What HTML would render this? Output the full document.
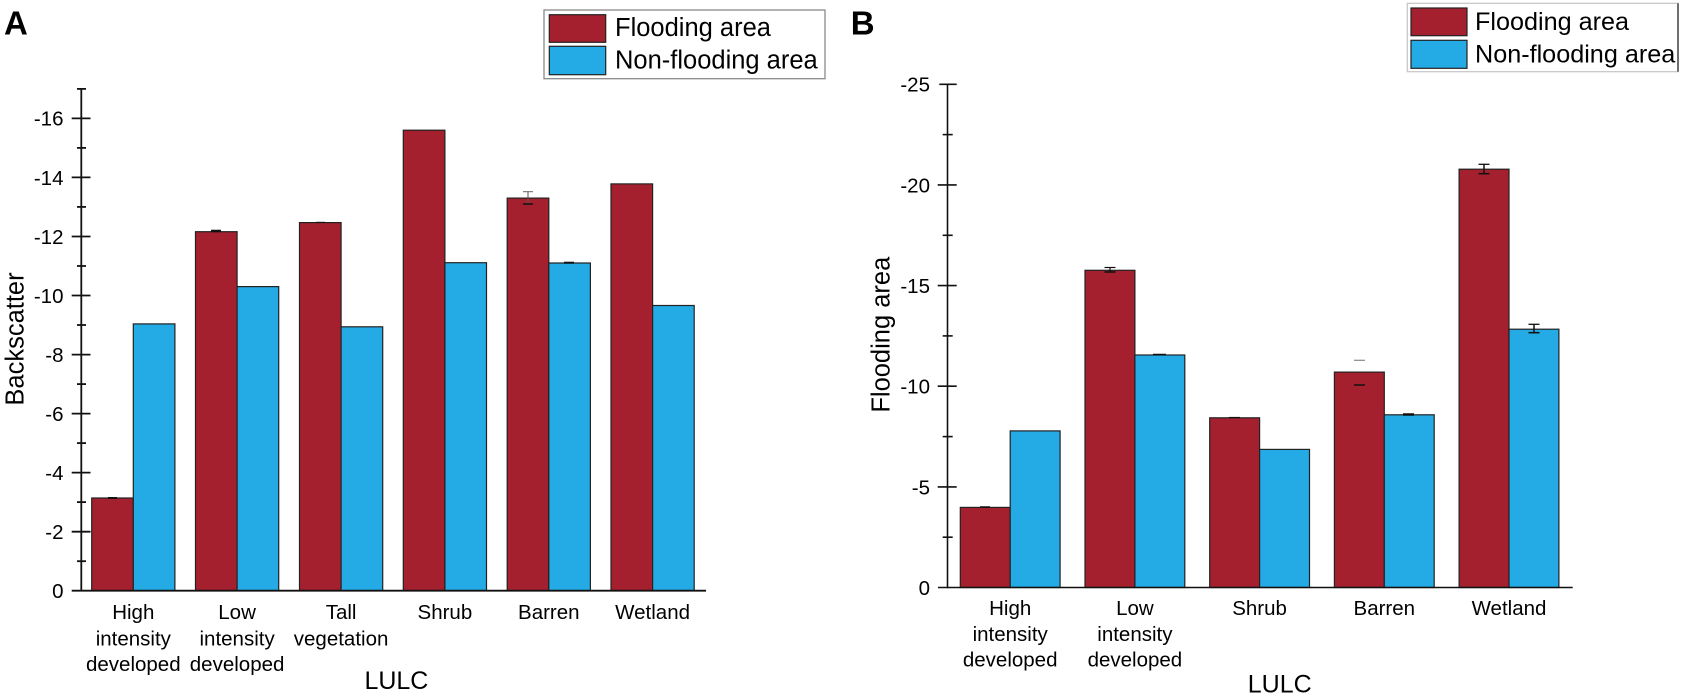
<!DOCTYPE html>
<html><head><meta charset="utf-8"><style>
html,body{margin:0;padding:0;background:#fff;}
svg{display:block;}
text{font-family:"Liberation Sans",Arial,sans-serif;fill:#000;}
</style></head><body>
<svg width="1699" height="696" viewBox="0 0 1699 696" xmlns="http://www.w3.org/2000/svg">
<rect width="1699" height="696" fill="#fff"/>

<!-- ================= PANEL A ================= -->
<text x="4" y="34.3" font-size="33" font-weight="bold">A</text>

<!-- legend A -->
<rect x="544" y="10" width="281" height="68.7" fill="#fff" stroke="#8a8a8a" stroke-width="1.3"/>
<rect x="549.3" y="14.7" width="56.4" height="27.6" fill="#A4202F" stroke="#222" stroke-width="1.2"/>
<rect x="549.3" y="46.3" width="56.4" height="28.4" fill="#24AAE4" stroke="#222" stroke-width="1.2"/>
<text x="615" y="36" font-size="25.5">Flooding area</text>
<text x="615" y="68.3" font-size="25.5">Non-flooding area</text>

<!-- bars A -->
<g stroke="#222" stroke-width="1.2">
<rect x="91.7" y="498.0" width="41.6" height="92.7" fill="#A4202F"/>
<rect x="133.3" y="323.9" width="41.6" height="266.8" fill="#24AAE4"/>
<rect x="195.5" y="231.7" width="41.6" height="359.0" fill="#A4202F"/>
<rect x="237.1" y="286.6" width="41.6" height="304.1" fill="#24AAE4"/>
<rect x="299.5" y="222.6" width="41.6" height="368.1" fill="#A4202F"/>
<rect x="341.1" y="326.8" width="41.6" height="263.9" fill="#24AAE4"/>
<rect x="403.3" y="130.2" width="41.6" height="460.5" fill="#A4202F"/>
<rect x="444.9" y="262.7" width="41.6" height="328.0" fill="#24AAE4"/>
<rect x="507.2" y="198.1" width="41.6" height="392.6" fill="#A4202F"/>
<rect x="548.8" y="263.0" width="41.6" height="327.7" fill="#24AAE4"/>
<rect x="611.0" y="183.9" width="41.6" height="406.8" fill="#A4202F"/>
<rect x="652.6" y="305.5" width="41.6" height="285.2" fill="#24AAE4"/>
</g>
<!-- error bars A -->
<g stroke="#111" fill="none">
<line x1="108" y1="498" x2="117" y2="498" stroke-width="2"/>
<line x1="211" y1="231" x2="221" y2="231" stroke-width="2.5"/>
<line x1="316" y1="222.3" x2="325" y2="222.3" stroke-width="1"/>
<line x1="523" y1="191.7" x2="533" y2="191.7" stroke-width="1" stroke="#666"/>
<line x1="528" y1="191.7" x2="528" y2="204" stroke-width="1" stroke="#555"/>
<line x1="523" y1="204" x2="533" y2="204" stroke-width="1.5"/>
<line x1="564" y1="262.7" x2="574" y2="262.7" stroke-width="2"/>
</g>

<!-- axes A -->
<g stroke="#111" stroke-width="1.8" fill="none">
<line x1="81.3" y1="88.7" x2="81.3" y2="591.5"/>
<line x1="71.7" y1="590.7" x2="706" y2="590.7"/>
<!-- major ticks -->
<line x1="71.7" y1="531.7" x2="90.5" y2="531.7"/>
<line x1="71.7" y1="472.6" x2="90.5" y2="472.6"/>
<line x1="71.7" y1="413.6" x2="90.5" y2="413.6"/>
<line x1="71.7" y1="354.6" x2="90.5" y2="354.6"/>
<line x1="71.7" y1="295.5" x2="90.5" y2="295.5"/>
<line x1="71.7" y1="236.5" x2="90.5" y2="236.5"/>
<line x1="71.7" y1="177.4" x2="90.5" y2="177.4"/>
<line x1="71.7" y1="118.4" x2="90.5" y2="118.4"/>
<!-- minor ticks -->
<line x1="77" y1="561.2" x2="86" y2="561.2"/>
<line x1="77" y1="502.1" x2="86" y2="502.1"/>
<line x1="77" y1="443.1" x2="86" y2="443.1"/>
<line x1="77" y1="384.1" x2="86" y2="384.1"/>
<line x1="77" y1="325.0" x2="86" y2="325.0"/>
<line x1="77" y1="266.0" x2="86" y2="266.0"/>
<line x1="77" y1="206.9" x2="86" y2="206.9"/>
<line x1="77" y1="147.9" x2="86" y2="147.9"/>
<line x1="77" y1="88.9" x2="86" y2="88.9"/>
</g>
<g font-size="20.5" text-anchor="end">
<text x="63.5" y="598">0</text>
<text x="63.5" y="539">-2</text>
<text x="63.5" y="480">-4</text>
<text x="63.5" y="421">-6</text>
<text x="63.5" y="362">-8</text>
<text x="63.5" y="303">-10</text>
<text x="63.5" y="244">-12</text>
<text x="63.5" y="185">-14</text>
<text x="63.5" y="125.5">-16</text>
</g>
<text transform="translate(23.3,339) rotate(-90)" font-size="25.5" text-anchor="middle">Backscatter</text>

<g font-size="20.5" text-anchor="middle">
<text x="133.3" y="619">High</text>
<text x="133.3" y="645.5">intensity</text>
<text x="133.3" y="671">developed</text>
<text x="237.1" y="619">Low</text>
<text x="237.1" y="645.5">intensity</text>
<text x="237.1" y="671">developed</text>
<text x="341.1" y="619">Tall</text>
<text x="341.1" y="645.5">vegetation</text>
<text x="444.9" y="619">Shrub</text>
<text x="548.8" y="619">Barren</text>
<text x="652.6" y="619">Wetland</text>
</g>
<text x="396.4" y="689" font-size="25" text-anchor="middle">LULC</text>

<!-- ================= PANEL B ================= -->
<text x="850.7" y="34.3" font-size="33" font-weight="bold">B</text>

<!-- legend B -->
<rect x="1407.3" y="3.3" width="270.7" height="68.4" fill="#fff" stroke="#c8c8c8" stroke-width="1.3"/>
<line x1="1678" y1="3.3" x2="1678" y2="71.7" stroke="#444" stroke-width="1.5"/>
<rect x="1411" y="8" width="56" height="27.7" fill="#A4202F" stroke="#222" stroke-width="1.2"/>
<rect x="1411" y="40.3" width="56" height="28" fill="#24AAE4" stroke="#222" stroke-width="1.2"/>
<text x="1475" y="30" font-size="25.2">Flooding area</text>
<text x="1475" y="62.3" font-size="25.2">Non-flooding area</text>

<!-- bars B -->
<g stroke="#222" stroke-width="1.2">
<rect x="960.3" y="507.4" width="49.9" height="80.1" fill="#A4202F"/>
<rect x="1010.2" y="430.9" width="49.9" height="156.6" fill="#24AAE4"/>
<rect x="1085.0" y="270.3" width="49.9" height="317.2" fill="#A4202F"/>
<rect x="1134.9" y="355.0" width="49.9" height="232.5" fill="#24AAE4"/>
<rect x="1209.7" y="417.8" width="49.9" height="169.7" fill="#A4202F"/>
<rect x="1259.6" y="449.4" width="49.9" height="138.1" fill="#24AAE4"/>
<rect x="1334.4" y="372.1" width="49.9" height="215.4" fill="#A4202F"/>
<rect x="1384.3" y="414.8" width="49.9" height="172.7" fill="#24AAE4"/>
<rect x="1459.1" y="169.2" width="49.9" height="418.3" fill="#A4202F"/>
<rect x="1509.0" y="329.2" width="49.9" height="258.3" fill="#24AAE4"/>
</g>
<!-- error bars B -->
<g stroke="#111" fill="none">
<line x1="980" y1="507" x2="990" y2="507" stroke-width="1.5"/>
<line x1="1104.5" y1="267.5" x2="1115.5" y2="267.5" stroke-width="1.2"/>
<line x1="1110" y1="267.5" x2="1110" y2="272" stroke-width="1.2"/>
<line x1="1104.5" y1="272" x2="1115.5" y2="272" stroke-width="1.5"/>
<line x1="1153" y1="354.5" x2="1166" y2="354.5" stroke-width="1.5"/>
<line x1="1229" y1="417.5" x2="1240" y2="417.5" stroke-width="1.2"/>
<line x1="1354" y1="360.3" x2="1365" y2="360.3" stroke-width="1.2" stroke="#888"/>
<line x1="1354" y1="385" x2="1365" y2="385" stroke-width="1.5"/>
<line x1="1403" y1="414.5" x2="1414" y2="414.5" stroke-width="2.5"/>
<line x1="1478.5" y1="164.3" x2="1489.5" y2="164.3" stroke-width="1.3"/>
<line x1="1484" y1="164.3" x2="1484" y2="173.7" stroke-width="1.5"/>
<line x1="1478.5" y1="173.7" x2="1489.5" y2="173.7" stroke-width="1.5"/>
<line x1="1528.5" y1="324.3" x2="1539.5" y2="324.3" stroke-width="1.3"/>
<line x1="1534" y1="324.3" x2="1534" y2="332.7" stroke-width="1.5"/>
<line x1="1528.5" y1="332.7" x2="1539.5" y2="332.7" stroke-width="1.5"/>
</g>

<!-- axes B -->
<g stroke="#111" stroke-width="1.6" fill="none">
<line x1="947.5" y1="84.3" x2="947.5" y2="588.2"/>
<line x1="938" y1="587.5" x2="1572.7" y2="587.5"/>
<!-- major -->
<line x1="937.7" y1="486.9" x2="956.7" y2="486.9"/>
<line x1="937.7" y1="386.2" x2="956.7" y2="386.2"/>
<line x1="937.7" y1="285.6" x2="956.7" y2="285.6"/>
<line x1="937.7" y1="184.9" x2="956.7" y2="184.9"/>
<line x1="939.3" y1="84.3" x2="956.7" y2="84.3"/>
<!-- minor -->
<line x1="942.7" y1="537.2" x2="952.7" y2="537.2"/>
<line x1="942.7" y1="436.6" x2="952.7" y2="436.6"/>
<line x1="942.7" y1="335.9" x2="952.7" y2="335.9"/>
<line x1="942.7" y1="235.3" x2="952.7" y2="235.3"/>
<line x1="942.7" y1="134.6" x2="952.7" y2="134.6"/>
</g>
<g font-size="20.5" text-anchor="end">
<text x="930" y="595">0</text>
<text x="930" y="494.3">-5</text>
<text x="930" y="393.6">-10</text>
<text x="930" y="293">-15</text>
<text x="930" y="192.3">-20</text>
<text x="930" y="91.7">-25</text>
</g>
<text transform="translate(889.3,334.7) rotate(-90)" font-size="25.5" text-anchor="middle">Flooding area</text>

<g font-size="20.5" text-anchor="middle">
<text x="1010.2" y="615">High</text>
<text x="1010.2" y="641">intensity</text>
<text x="1010.2" y="666.5">developed</text>
<text x="1134.9" y="615">Low</text>
<text x="1134.9" y="641">intensity</text>
<text x="1134.9" y="666.5">developed</text>
<text x="1259.6" y="615">Shrub</text>
<text x="1384.3" y="615">Barren</text>
<text x="1509" y="615">Wetland</text>
</g>
<text x="1279.7" y="692.5" font-size="25" text-anchor="middle">LULC</text>
</svg>
</body></html>
